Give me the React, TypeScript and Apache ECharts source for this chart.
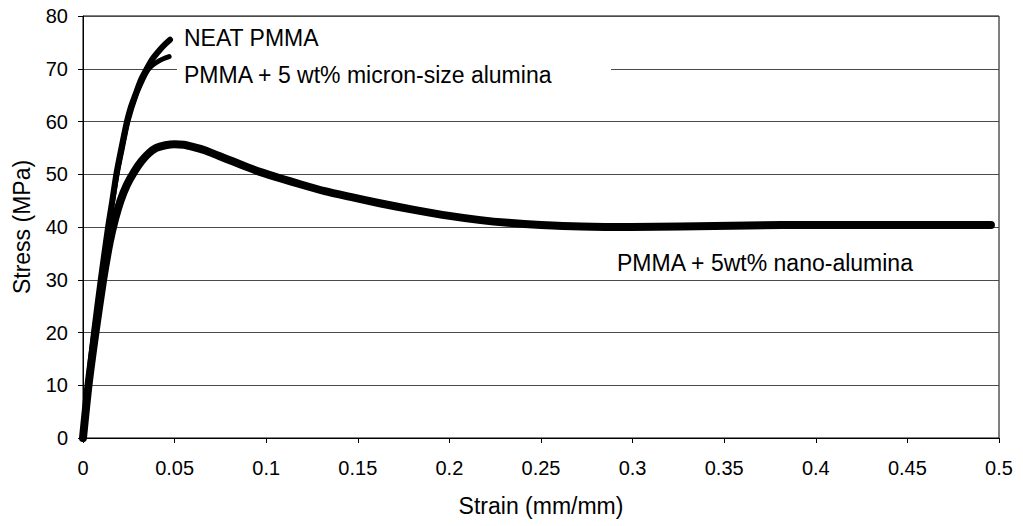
import React, { useEffect, useRef } from "react";
import * as echarts from "echarts";

// Strain (mm/mm) and stress (MPa)
const neatStrain = [0, 0.0028, 0.006, 0.0097, 0.0137, 0.016, 0.0182, 0.021, 0.024, 0.0262, 0.0285, 0.0315, 0.0348, 0.038, 0.042, 0.045, 0.0475];
const neatStress = [0, 10, 20, 30, 40, 45, 50, 55, 60, 62.8, 65, 67.8, 70, 71.9, 73.6, 74.7, 75.5];

const micronStrain = [0, 0.0028, 0.0062, 0.0099, 0.014, 0.0186, 0.0215, 0.0245, 0.029, 0.033, 0.0355, 0.038, 0.0415, 0.0445, 0.047];
const micronStress = [0, 10, 20, 30, 40, 50, 55, 60, 65, 68.2, 69.8, 70.7, 71.5, 72, 72.3];

const nanoStrain = [0, 0.003, 0.0068, 0.011, 0.0145, 0.0175, 0.0205, 0.024, 0.028, 0.032, 0.036, 0.04, 0.045, 0.05, 0.055, 0.06, 0.066, 0.074, 0.082, 0.09, 0.097, 0.108, 0.1186, 0.132, 0.146, 0.162, 0.18, 0.2, 0.217, 0.232, 0.25, 0.272, 0.299, 0.326, 0.363, 0.4, 0.45, 0.4956];
const nanoStress = [0, 10, 20, 30, 37, 41.5, 45, 48, 50.5, 52.5, 54, 55, 55.5, 55.7, 55.6, 55.2, 54.6, 53.5, 52.4, 51.3, 50.4, 49.2, 48.1, 46.8, 45.7, 44.5, 43.3, 42.1, 41.3, 40.8, 40.4, 40.1, 40.0, 40.1, 40.3, 40.4, 40.4, 40.4];

const xTicks = { min: 0, max: 0.5, interval: 0.05 };
const yTicks = { min: 0, max: 80, interval: 10 };

const seriesNames = ["NEAT PMMA", "PMMA + 5 wt% micron-size alumina", "PMMA + 5wt% nano-alumina"];

const zip = (xs: number[], ys: number[]) => xs.map((x, i) => [x, ys[i]]);

const FONT = "'Liberation Sans', Arial, Helvetica, sans-serif";

export default function App() {
  const ref = useRef<HTMLDivElement>(null);
  useEffect(() => {
    if (!ref.current) return;
    const chart = echarts.init(ref.current, undefined, { renderer: "svg" });
    const lineSeries = (name: string, data: number[][], width: number) => ({
      type: "line",
      name,
      data,
      showSymbol: false,
      symbol: "none",
      smooth: 0.25,
      lineStyle: { color: "#000", width, cap: "round", join: "round" },
      z: 3,
    });
    chart.setOption({
      animation: false,
      backgroundColor: "#fff",
      textStyle: { fontFamily: FONT },
      grid: {
        left: 83,
        right: 24,
        top: 16,
        bottom: 88,
        show: true,
        borderColor: "#000",
        borderWidth: 1,
        backgroundColor: "transparent",
        containLabel: false,
      },
      xAxis: {
        type: "value",
        min: xTicks.min,
        max: xTicks.max,
        interval: xTicks.interval,
        name: "Strain (mm/mm)",
        nameLocation: "middle",
        nameGap: 56,
        nameTextStyle: { color: "#000", fontSize: 23, fontFamily: FONT },
        axisLine: { show: true, lineStyle: { color: "#000", width: 1 } },
        axisTick: { show: true, inside: false, length: 5, lineStyle: { color: "#000" } },
        axisLabel: { color: "#000", fontSize: 20, margin: 20, fontFamily: FONT },
        splitLine: { show: false },
      },
      yAxis: {
        type: "value",
        min: yTicks.min,
        max: yTicks.max,
        interval: yTicks.interval,
        name: "Stress (MPa)",
        nameLocation: "middle",
        nameGap: 50,
        nameTextStyle: { color: "#000", fontSize: 23, fontFamily: FONT },
        axisLine: { show: true, lineStyle: { color: "#000", width: 1 } },
        axisTick: { show: true, inside: false, length: 5, lineStyle: { color: "#000" } },
        axisLabel: { color: "#000", fontSize: 20, margin: 15, fontFamily: FONT },
        splitLine: { show: true, lineStyle: { color: "#4a4a4a", width: 1 } },
      },
      series: [
        lineSeries(seriesNames[0], zip(neatStrain, neatStress), 6),
        lineSeries(seriesNames[1], zip(micronStrain, micronStress), 5),
        lineSeries(seriesNames[2], zip(nanoStrain, nanoStress), 8),
      ],
      graphic: [
        { type: "rect", z: 50, shape: { x: 177, y: 63, width: 434, height: 12 }, style: { fill: "#fff" } },
        {
          type: "text", z: 51, x: 184, y: 38,
          style: { text: seriesNames[0], fill: "#000", font: `23px ${FONT}`, textVerticalAlign: "middle", verticalAlign: "middle" },
        },
        {
          type: "text", z: 51, x: 184, y: 75,
          style: { text: seriesNames[1], fill: "#000", font: `23px ${FONT}`, textVerticalAlign: "middle", verticalAlign: "middle" },
        },
        {
          type: "text", z: 51, x: 617, y: 263,
          style: { text: seriesNames[2], fill: "#000", font: `23px ${FONT}`, textVerticalAlign: "middle", verticalAlign: "middle" },
        },
      ],
    });
    return () => chart.dispose();
  }, []);
  return (
    <div
      ref={ref}
      style={{ position: "fixed", left: 0, top: 0, width: 1023, height: 526, background: "#fff" }}
    />
  );
}
